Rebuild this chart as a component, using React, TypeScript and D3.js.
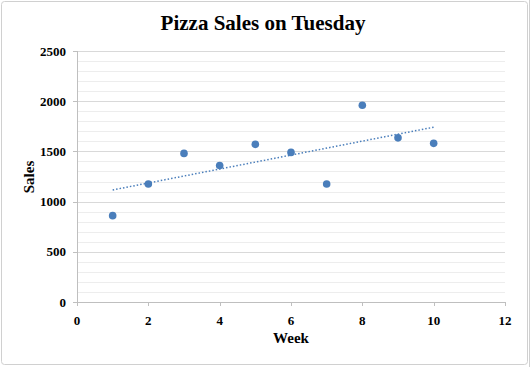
import React from "react";
import * as d3 from "d3";

const weeks = [1, 2, 3, 4, 5, 6, 7, 8, 9, 10];
const sales = [860, 1175, 1480, 1360, 1570, 1490, 1175, 1960, 1635, 1580];
const xTicks = [0, 2, 4, 6, 8, 10, 12];
const yTicks = [0, 500, 1000, 1500, 2000, 2500];
const yMinor = d3.range(0, 2501, 100);

export default function App() {
  const W = 531, H = 367;
  const x = d3.scaleLinear().domain([0, 12]).range([77, 505]);
  const y = d3.scaleLinear().domain([0, 2500]).range([302, 51]);

  const mx = d3.mean(weeks)!;
  const my = d3.mean(sales)!;
  let sxy = 0, sxx = 0;
  weeks.forEach((w, i) => { sxy += (w - mx) * (sales[i] - my); sxx += (w - mx) ** 2; });
  const slope = sxy / sxx;
  const icpt = my - slope * mx;
  const trend = d3.line<number>().x(d => x(d)).y(d => y(icpt + slope * d));
  const font = "'Liberation Serif', 'Times New Roman', serif";
  const color = "#4a7ebb";

  return (
    <div style={{ position: "fixed", left: 0, top: 0 }}>
      <svg width={W} height={H} style={{ display: "block" }}>
        <rect x={0} y={0} width={W} height={H} fill="#fff" />
        <rect x={1.5} y={1.5} width={526} height={363} rx={3} fill="#fff" stroke="#d0d0d0" />
        <line x1={529.5} x2={529.5} y1={0} y2={H} stroke="#d0d0d0" />
        {yMinor.filter(v => v % 500 !== 0).map(v => (
          <line key={"m" + v} x1={x(0)} x2={x(12)} y1={Math.round(y(v)) + 0.5} y2={Math.round(y(v)) + 0.5} stroke="#ededed" />
        ))}
        {yTicks.filter(v => v > 0).map(v => (
          <line key={"g" + v} x1={x(0)} x2={x(12)} y1={Math.round(y(v)) + 0.5} y2={Math.round(y(v)) + 0.5} stroke="#d9d9d9" />
        ))}
        <line x1={x(0) + 0.5} x2={x(0) + 0.5} y1={y(2500)} y2={y(0)} stroke="#bfbfbf" />
        <line x1={x(0)} x2={x(12)} y1={Math.round(y(0)) + 0.5} y2={Math.round(y(0)) + 0.5} stroke="#bfbfbf" />
        {yTicks.map(v => (
          <g key={"yt" + v}>
            <line x1={x(0) - 4} x2={x(0)} y1={Math.round(y(v)) + 0.5} y2={Math.round(y(v)) + 0.5} stroke="#bfbfbf" />
            <text x={x(0) - 11} y={y(v)} dy="0.35em" textAnchor="end" fontFamily={font} fontWeight="bold" fontSize={13} fill="#000">{v}</text>
          </g>
        ))}
        {xTicks.map(v => (
          <g key={"xt" + v}>
            <line x1={Math.round(x(v)) + 0.5} x2={Math.round(x(v)) + 0.5} y1={y(0)} y2={y(0) + 4} stroke="#bfbfbf" />
            <text x={x(v)} y={y(0) + 23} textAnchor="middle" fontFamily={font} fontWeight="bold" fontSize={13} fill="#000">{v}</text>
          </g>
        ))}
        <path d={trend([1, 10]) || ""} fill="none" stroke={color} strokeWidth={1.5} strokeDasharray="1.5,2" />
        {weeks.map((w, i) => (
          <circle key={"p" + i} cx={x(w)} cy={y(sales[i])} r={3.8} fill={color} />
        ))}
        <text x={263} y={30} textAnchor="middle" fontFamily={font} fontWeight="bold" fontSize={21} fill="#000">Pizza Sales on Tuesday</text>
        <text x={291} y={343} textAnchor="middle" fontFamily={font} fontWeight="bold" fontSize={15} fill="#000">Week</text>
        <text transform={`translate(34,177) rotate(-90)`} textAnchor="middle" fontFamily={font} fontWeight="bold" fontSize={15} fill="#000">Sales</text>
      </svg>
    </div>
  );
}
